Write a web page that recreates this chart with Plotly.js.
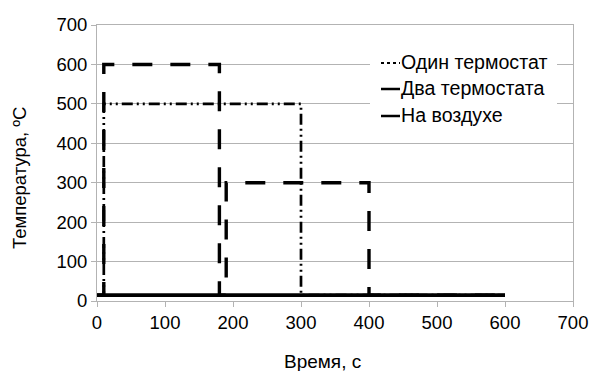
<!DOCTYPE html>
<html><head><meta charset="utf-8">
<script src="https://cdn.plot.ly/plotly-3.0.1.min.js"></script>
<style>html,body{margin:0;padding:0;background:#fff}#chart{width:592px;height:371px}</style>
</head><body><div id="chart"></div>
<script>
// Data
const seriesNames = ["Один термостат", "Два термостата", "На воздухе"];
const oneX = [0, 10, 10, 300, 300, 600];
const oneY = [15, 15, 500, 500, 15, 15];
const twoX = [0, 10, 10, 180, 180, 190, 190, 400, 400, 600];
const twoY = [15, 15, 600, 600, 15, 15, 300, 300, 15, 15];
const airX = [0, 600];
const airY = [15, 15];
const xTicks = [0, 100, 200, 300, 400, 500, 600, 700];
const yTicks = [0, 100, 200, 300, 400, 500, 600, 700];

const font = "Liberation Sans, Arial, sans-serif";
const traces = [
  {x: oneX, y: oneY, mode: 'lines', name: seriesNames[0], line: {color: '#000', width: 2.7, dash: '11px,4px,2px,4px,2px,4px'}},
  {x: twoX, y: twoY, mode: 'lines', name: seriesNames[1], line: {color: '#000', width: 3.4, dash: '20px,18px'}},
  {x: airX, y: airY, mode: 'lines', name: seriesNames[2], line: {color: '#000', width: 3.6}}
];

// custom legend (pixel -> paper conversion)
const L = 97, R = 573, T = 25, B = 301;
const px = v => (v - L) / (R - L);
const py = v => (B - v) / (B - T);
const rows = [62, 88, 115];
const shapes = [
  {type: 'rect', xref: 'paper', yref: 'paper', x0: px(370), x1: px(557), y0: py(48), y1: py(128), fillcolor: '#fff', line: {width: 0}, layer: 'above'}
];
const annotations = [];
rows.forEach((r, i) => {
  shapes.push({type: 'line', xref: 'paper', yref: 'paper', x0: px(381), x1: px(400), y0: py(r + 1), y1: py(r + 1), layer: 'above',
    line: {color: '#000', width: i === 0 ? 2 : 2.5, dash: i === 0 ? '3px,3px' : 'solid'}});
  annotations.push({xref: 'paper', yref: 'paper', x: px(399), y: py(r), xanchor: 'left', yanchor: 'middle', showarrow: false,
    text: seriesNames[i], font: {family: font, size: 19.6, color: '#000'}});
});
annotations.push({xref: 'paper', yref: 'paper', x: px(322), y: py(361), xanchor: 'center', yanchor: 'middle', showarrow: false,
  text: 'Время, с', font: {family: font, size: 19, color: '#000'}});
annotations.push({xref: 'paper', yref: 'paper', x: px(19), y: py(178), xanchor: 'center', yanchor: 'middle', showarrow: false, textangle: -90,
  text: 'Температура, ºC', font: {family: font, size: 18.5, color: '#000'}});

const layout = {
  width: 592, height: 371,
  margin: {l: L, r: 592 - R, t: T, b: 371 - B},
  paper_bgcolor: '#fff', plot_bgcolor: '#fff',
  showlegend: false,
  font: {family: font, size: 18.5, color: '#000'},
  xaxis: {range: [0, 700], tickvals: xTicks, ticktext: xTicks.map(String), showgrid: false, zeroline: false,
    showline: true, linecolor: '#b3b3b3', linewidth: 1, mirror: true, ticks: 'outside', ticklen: 5, tickcolor: '#b3b3b3',
    tickfont: {family: font, size: 18.5, color: '#000'}, fixedrange: true},
  yaxis: {range: [0, 700], tickvals: yTicks, ticktext: yTicks.map(String), showgrid: true, gridcolor: '#b3b3b3', gridwidth: 1, zeroline: false,
    showline: true, linecolor: '#b3b3b3', linewidth: 1, mirror: true, ticks: 'outside', ticklen: 5, tickcolor: '#b3b3b3',
    tickfont: {family: font, size: 18.5, color: '#000'}, fixedrange: true},
  shapes: shapes,
  annotations: annotations
};
Plotly.newPlot('chart', traces, layout, {displayModeBar: false, staticPlot: true});
</script></body></html>
